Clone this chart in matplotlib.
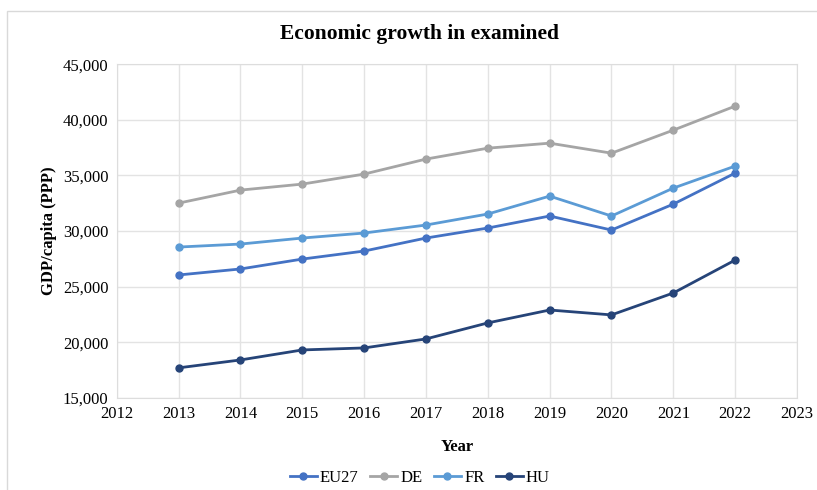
import matplotlib as mpl
mpl.use('Agg')
import matplotlib.pyplot as plt
from matplotlib.patches import Rectangle
from matplotlib.ticker import FuncFormatter

#
#--- data
#
years = [2013, 2014, 2015, 2016, 2017, 2018, 2019, 2020, 2021, 2022]
eu27  = [26050, 26590, 27480, 28200, 29370, 30270, 31350, 30090, 32420, 35210]
de    = [32510, 33680, 34220, 35120, 36470, 37450, 37900, 37000, 39070, 41230]
fr    = [28560, 28830, 29370, 29820, 30540, 31530, 33140, 31350, 33860, 35840]
hu    = [17700, 18410, 19310, 19490, 20300, 21740, 22900, 22460, 24430, 27390]

series = [('EU27', eu27, '#4472C4'),
          ('DE',   de,   '#A5A5A5'),
          ('FR',   fr,   '#5B9BD5'),
          ('HU',   hu,   '#264478')]

plt.rcParams['font.family'] = ['Liberation Serif', 'DejaVu Serif']

fig = plt.figure(figsize=(8.17, 4.90), dpi=100)
fig.patches.append(Rectangle((0.009, -0.01), 1.1, 0.987, transform=fig.transFigure,
                             fill=False, edgecolor='#D9D9D9', lw=1.0))
ax = fig.add_axes([0.143, 0.188, 0.8325, 0.681])

for name, vals, col in series:
    ax.plot(years, vals, color=col, lw=2, marker='o', markersize=5, label=name)

ax.set_xlim(2012, 2023)
ax.set_ylim(15000, 45000)
ax.set_xticks(range(2012, 2024))
ax.set_yticks(range(15000, 45001, 5000))
ax.yaxis.set_major_formatter(FuncFormatter(lambda v, p: '{:,.0f}'.format(v)))
ax.tick_params(labelsize=12, length=0, pad=6)
ax.grid(True, color='#E3E3E3', lw=1)
ax.set_axisbelow(True)
for s in ax.spines.values():
    s.set_color('#DDDDDD')

#
#--- title and legend are centred on the figure, not the axes
#
fig.text(0.514, 0.930, 'Economic growth in examined', fontsize=15.5, fontweight='bold',
         ha='center', va='center')
ax.set_xlabel('Year', fontsize=12, fontweight='bold', labelpad=12)
ax.set_ylabel('GDP/capita (PPP)', fontsize=12, fontweight='bold', labelpad=4)

fig.legend(*ax.get_legend_handles_labels(), loc='center', bbox_to_anchor=(0.514, 0.024),
           ncol=4, frameon=False, fontsize=12, handlelength=1.6, columnspacing=0.7,
           handletextpad=0.2, borderaxespad=0)

plt.savefig('out.png', dpi=100)
plt.close('all')
